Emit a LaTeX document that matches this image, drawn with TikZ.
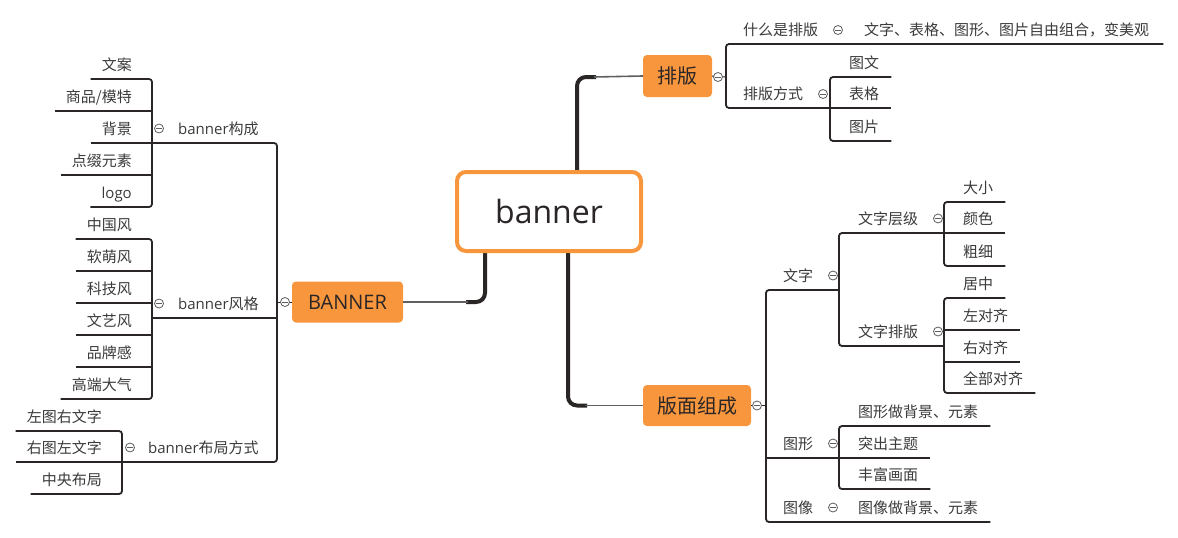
\documentclass[tikz,border=0pt]{standalone}
\usepackage{fontspec}
\setmainfont{Noto Sans CJK SC}
\newfontfamily\lat{Open Sans}
\definecolor{org}{RGB}{248,150,62}
\definecolor{ln}{RGB}{42,38,38}
\definecolor{tx}{RGB}{60,58,58}
\definecolor{cg}{RGB}{95,95,95}
\tikzset{
  lbl/.style={inner sep=0pt, text=tx, font=\fontsize{15}{17}\selectfont},
  br/.style={draw=ln, line width=1.8pt, rounded corners=3pt},
  topic/.style={fill=org, rounded corners=4pt, text=ln, inner sep=0pt, font=\fontsize{20}{24}\selectfont},
  col/.style={circle, draw=cg, line width=0.8pt, minimum size=9pt, inner sep=0pt, fill=white,
    path picture={\draw[cg, line width=0.8pt] ([xshift=-2.6pt]path picture bounding box.center) -- ([xshift=2.6pt]path picture bounding box.center);}},
  trunk/.style={draw=ln, line width=4pt, rounded corners=9pt},
  twig/.style={draw=gray!75!black, line width=1.6pt},
  thinln/.style={draw=ln, line width=1pt},
}
\newcommand\myL[4]{\node[lbl,anchor=base east] (#1) at (#2,#3-9) {#4}; \coordinate (#1u) at ([xshift=-11pt,yshift=-9pt]#1.base west);}
\newcommand\myR[4]{\node[lbl,anchor=base west] (#1) at (#2,#3-9) {#4}; \coordinate (#1u) at ([xshift=12pt,yshift=-9pt]#1.base east);}
\begin{document}
\begin{tikzpicture}[x=1pt,y=-1pt]
\useasboundingbox (0,0) rectangle (1178,538);
\fill[white] (0,0) rectangle (1178,538);

% main topics
\node[topic, minimum width=69pt, minimum height=42pt] (pb) at (677.5,76) {排版};
\node[topic, minimum width=111pt, minimum height=41pt, font=\lat\fontsize{20}{24}\selectfont] (bn) at (347.5,302) {BANNER};
\node[topic, minimum width=108pt, minimum height=41pt] (bm) at (697,405.5) {版面组成};

% trunks from central topic
\draw[trunk] (577,200) -- (577,77) -- (596,77);
\draw[twig] (594,77) -- (pb.west);
\draw[trunk] (485,230) -- (485,302) -- (466,302);
\draw[twig] (468,302) -- (bn.east);
\draw[trunk] (568,230) -- (568,405.5) -- (587,405.5);
\draw[twig] (585,405.5) -- (bm.west);

\node[draw=org, line width=4pt, fill=white, rounded corners=9pt, minimum width=184pt, minimum height=79pt,
      text=ln, font=\lat\fontsize{32}{38}\selectfont] (c) at (549,211.5) {banner};

% ---------------- left: BANNER ----------------
\coordinate (mb) at (277,302);
\coordinate (gcb) at (152,143);
\coordinate (gfb) at (152,318);
\coordinate (gbb) at (122,462);
\draw[thinln] (mb) -- (bn.west);
\node[col] (bnc) at (285,302) {};

\node[lbl,anchor=base west] (gc) at (178,134) {{\lat banner}构成};
\node[col] (gcc) at (159,128.5) {};
\node[lbl,anchor=base west] (gf) at (178,309) {{\lat banner}风格};
\node[col] (gfc) at (159,303.5) {};
\node[lbl,anchor=base west] (gb) at (148,453) {{\lat banner}布局方式};
\node[col] (gbc) at (130,447.5) {};

\draw[br] (gcb) -- (gcb -| mb) -- (gbb -| mb) -- (gbb);
\draw[br] (gfb) -- (gfb -| mb);

% banner构成 children
\myL{a1}{132}{79}{文案}
\myL{a2}{132}{111}{商品/模特}
\myL{a3}{132}{143}{背景}
\myL{a4}{132}{175}{点缀元素}
\myL{a5}{132}{207}{{\lat logo}}
\draw[br] (a1u) -- (a1u -| gcb) -- (a5u -| gcb) -- (a5u);
\draw[br] (a2u) -- (a2u -| gcb);
\draw[br] (a3u) -- (gcb);
\draw[br] (a4u) -- (a4u -| gcb);

% banner风格 children
\myL{b1}{132}{239}{中国风}
\myL{b2}{132}{271}{软萌风}
\myL{b3}{132}{303}{科技风}
\myL{b4}{132}{335}{文艺风}
\myL{b5}{132}{367}{品牌感}
\myL{b6}{132}{399}{高端大气}
\draw[br] (b1u) -- (b1u -| gfb) -- (b6u -| gfb) -- (b6u);
\draw[br] (b2u) -- (b2u -| gfb);
\draw[br] (b3u) -- (b3u -| gfb);
\draw[br] (b4u) -- (b4u -| gfb);
\draw[br] (b5u) -- (b5u -| gfb);

% banner布局方式 children
\myL{l1}{102}{431}{左图右文字}
\myL{l2}{102}{462}{右图左文字}
\myL{l3}{102}{494}{中央布局}
\draw[br] (l1u) -- (l1u -| gbb) -- (l3u -| gbb) -- (l3u);
\draw[br] (l2u) -- (gbb);

% ---------------- right: 排版 ----------------
\coordinate (pbb) at (726,77);
\draw[thinln] (pb.east) -- (pbb);
\node[col] (pbc) at (718,77) {};
\node[lbl,anchor=base west] (sp) at (743,35) {什么是排版};
\node[col] (spc) at (838,30) {};
\node[lbl,anchor=base west] (sd) at (864,35) {文字、表格、图形、图片自由组合，变美观};
\coordinate (sdu) at ([xshift=14pt,yshift=-9pt]sd.base east);
\node[lbl,anchor=base west] (fs) at (743,99) {排版方式};
\node[col] (fsc) at (823,94) {};
\coordinate (fsb) at (830,108);
\draw[br] (sdu) -- (sdu -| pbb) -- (fsb -| pbb) -- (fsb);
\myR{t1}{849}{77}{图文}
\myR{t2}{849}{108}{表格}
\myR{t3}{849}{141}{图片}
\draw[br] (t1u) -- (t1u -| fsb) -- (t3u -| fsb) -- (t3u);
\draw[br] (fsb) -- (t2u);

% ---------------- right: 版面组成 ----------------
\coordinate (bmb) at (766,405.5);
\draw[thinln] (bm.east) -- (bmb);
\node[col] (bmc) at (757,405.5) {};

\node[lbl,anchor=base west] (wz) at (783,281) {文字};
\node[col] (wzc) at (833,275.5) {};
\coordinate (wzb) at (839,290);
\node[lbl,anchor=base west] (tx) at (783,449) {图形};
\node[col] (txc) at (833,443.5) {};
\coordinate (txb) at (839,458);
\node[lbl,anchor=base west] (tj) at (783,513) {图像};
\node[col] (tjc) at (833,507.5) {};
\myR{tjd}{858}{522}{图像做背景、元素}
\draw[br] (wzb) -- (wzb -| bmb) -- (tjdu -| bmb) -- (tjdu);
\draw[br] (txb -| bmb) -- (txb);

% 文字
\coordinate (w1b) at (944,233);
\coordinate (w2b) at (944,346);
\node[lbl,anchor=base west] (w1) at (858,224) {文字层级};
\node[col] (w1c) at (938,218.5) {};
\node[lbl,anchor=base west] (w2) at (858,337) {文字排版};
\node[col] (w2c) at (938,331.5) {};
\draw[br] (w1b) -- (w1b -| wzb) -- (w2b -| wzb) -- (w2b);
\myR{d1}{963}{202}{大小}
\myR{d2}{963}{233}{颜色}
\myR{d3}{963}{266}{粗细}
\draw[br] (d1u) -- (d1u -| w1b) -- (d3u -| w1b) -- (d3u);
\draw[br] (w1b) -- (d2u);
\myR{e1}{963}{298}{居中}
\myR{e2}{963}{330}{左对齐}
\myR{e3}{963}{362}{右对齐}
\myR{e4}{963}{393}{全部对齐}
\draw[br] (e1u) -- (e1u -| w2b) -- (e4u -| w2b) -- (e4u);
\draw[br] (e2u -| w2b) -- (e2u);
\draw[br] (e3u -| w2b) -- (e3u);

% 图形
\myR{f1}{858}{426}{图形做背景、元素}
\myR{f2}{858}{458}{突出主题}
\myR{f3}{858}{489}{丰富画面}
\draw[br] (f1u) -- (f1u -| txb) -- (f3u -| txb) -- (f3u);
\draw[br] (txb) -- (f2u);
\end{tikzpicture}
\end{document}
